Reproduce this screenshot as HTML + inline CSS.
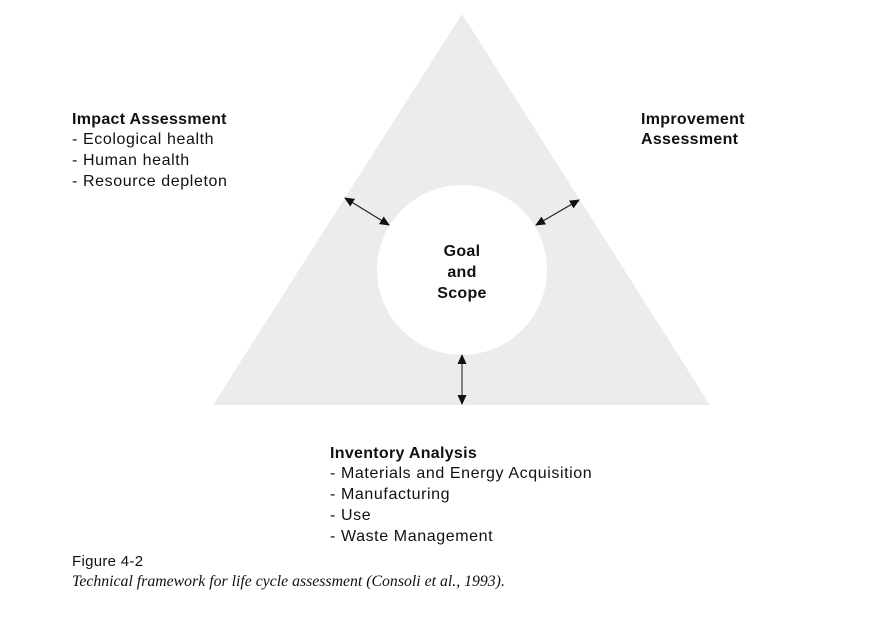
<!DOCTYPE html>
<html><head><style>
body{margin:0;background:#fff;}
svg text{font-family:"Liberation Sans",sans-serif;font-size:16px;fill:#111;letter-spacing:0.6px;}
.b{font-weight:bold;letter-spacing:0.3px;}
</style></head><body>
<svg width="894" height="615" viewBox="0 0 894 615" xmlns="http://www.w3.org/2000/svg">
<defs><marker id="a" markerWidth="10" markerHeight="9" refX="9" refY="4.5" orient="auto-start-reverse" markerUnits="userSpaceOnUse"><path d="M0,0 L10,4.5 L0,9 Z" fill="#111"/></marker></defs>
<polygon points="462,14 213,405 710,405" fill="#ececec"/>
<circle cx="462" cy="270" r="85" fill="#fff"/>
<line x1="345" y1="198" x2="389" y2="225" stroke="#222" stroke-width="1.2" marker-start="url(#a)" marker-end="url(#a)"/>
<line x1="536" y1="225" x2="579" y2="200" stroke="#222" stroke-width="1.2" marker-start="url(#a)" marker-end="url(#a)"/>
<line x1="462" y1="355" x2="462" y2="404" stroke="#555" stroke-width="1.4" marker-start="url(#a)" marker-end="url(#a)"/>
<text x="72" y="124" class="b">Impact Assessment</text>
<text x="72" y="144">- Ecological health</text>
<text x="72" y="165">- Human health</text>
<text x="72" y="186">- Resource depleton</text>
<text x="641" y="124" class="b">Improvement</text>
<text x="641" y="144" class="b">Assessment</text>
<text x="462" y="256" class="b" text-anchor="middle">Goal</text>
<text x="462" y="277" class="b" text-anchor="middle">and</text>
<text x="462" y="298" class="b" text-anchor="middle">Scope</text>
<text x="330" y="458" class="b">Inventory Analysis</text>
<text x="330" y="478">- Materials and Energy Acquisition</text>
<text x="330" y="499">- Manufacturing</text>
<text x="330" y="520">- Use</text>
<text x="330" y="541">- Waste Management</text>
<text x="72" y="566" style="font-size:15px;letter-spacing:0.3px">Figure 4-2</text>
<text x="72" y="586" style="font-family:'Liberation Serif',serif;font-style:italic;font-size:15.8px;letter-spacing:0">Technical framework for life cycle assessment (Consoli et al., 1993).</text>
</svg>
</body></html>
